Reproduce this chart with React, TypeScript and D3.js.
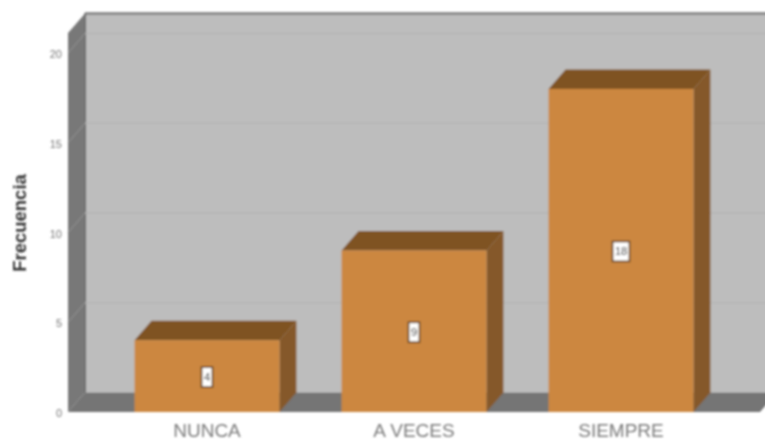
import React from "react";
import * as d3 from "d3";

const categories = ["NUNCA", "A VECES", "SIEMPRE"];
const frequencies = [4, 9, 18];
const yTicks = [0, 5, 10, 15, 20];
const yAxisTitle = "Frecuencia";

const W = 765, H = 440;
const depthX = 17, depthY = 19.5;
const font = "Liberation Sans, Arial, sans-serif";

export default function App() {
  const y = d3.scaleLinear().domain([0, 20]).range([412, 53]);
  const x = d3.scaleBand<string>().domain(categories).range([103.5, 724.5]).paddingInner(0.3).paddingOuter(0.15);
  const left = 68, top = 33, bottom = y(0), right = 760;
  const poly = (pts: number[][]) => d3.line()(pts as [number, number][]) + "Z";
  return (
    <svg width={W} height={H} viewBox={`0 0 ${W} ${H}`}
      style={{ position: "absolute", left: 0, top: 0, background: "#fff" }}>
      <defs>
        <filter id="soft" x="-5%" y="-5%" width="110%" height="110%">
          <feGaussianBlur stdDeviation="0.8" />
        </filter>
      </defs>
      <g filter="url(#soft)">
        {/* back wall */}
        <rect x={left + depthX} y={top - depthY} width={W} height={bottom - top} fill="#bdbdbd" />
        <line x1={left + depthX} x2={W + 20} y1={top - depthY} y2={top - depthY} stroke="#7e7e7e" strokeWidth={2.5} />
        <line x1={left + depthX} x2={left + depthX} y1={top - depthY} y2={bottom - depthY} stroke="#5c5c5c" strokeWidth={2} />
        {/* left wall */}
        <path d={poly([[left, top], [left + depthX, top - depthY], [left + depthX, bottom - depthY], [left, bottom]])} fill="#787878" />
        {/* floor */}
        <path d={poly([[left, bottom], [left + depthX, bottom - depthY], [right + depthX, bottom - depthY], [right, bottom]])} fill="#757575" />
        {/* grid */}
        {yTicks.filter(t => t > 0).map(t => (
          <g key={t}>
            <line x1={left + depthX} x2={W + 20} y1={y(t) - depthY} y2={y(t) - depthY} stroke="#b5b5b5" strokeWidth={1.5} />
            <line x1={left} x2={left + depthX} y1={y(t)} y2={y(t) - depthY} stroke="#949494" strokeWidth={1} />
          </g>
        ))}
        {/* bars */}
        {categories.map((c, i) => {
          const x0 = x(c)!, x1 = x0 + x.bandwidth(), yt = y(frequencies[i]);
          return (
            <g key={c}>
              <path d={poly([[x0, yt], [x0 + depthX, yt - depthY], [x1 + depthX, yt - depthY], [x1, yt]])} fill="#7f5224" />
              <path d={poly([[x1, yt], [x1 + depthX, yt - depthY], [x1 + depthX, bottom - depthY], [x1, bottom]])} fill="#85592a" />
              <rect x={x0} y={yt} width={x.bandwidth()} height={bottom - yt} fill="#cc873f" />
            </g>
          );
        })}
        {/* value labels */}
        {categories.map((c, i) => {
          const cx = x(c)! + x.bandwidth() / 2, cy = y(frequencies[i] / 2) + 1;
          const w = String(frequencies[i]).length > 1 ? 17 : 11;
          return (
            <g key={c}>
              <rect x={cx - w / 2} y={cy - 10} width={w} height={20} fill="#fff" stroke="#6f4c28" strokeWidth={1.8} />
              <text x={cx} y={cy + 4} textAnchor="middle" fontSize={11} fontFamily={font} fill="#222">{frequencies[i]}</text>
            </g>
          );
        })}
        {/* y ticks */}
        {yTicks.map(t => (
          <text key={t} x={62} y={y(t) + 5} textAnchor="end" fontSize={11} fontFamily={font} fill="#777">{t}</text>
        ))}
        {/* x labels */}
        {categories.map(c => (
          <text key={c} x={x(c)! + x.bandwidth() / 2} y={437} textAnchor="middle" fontSize={19} fontFamily={font} fill="#7a7a7a">{c}</text>
        ))}
        <text transform="translate(26,223) rotate(-90)" textAnchor="middle" fontSize={18.5} fontWeight="bold" fontFamily={font} fill="#333">{yAxisTitle}</text>
      </g>
    </svg>
  );
}
